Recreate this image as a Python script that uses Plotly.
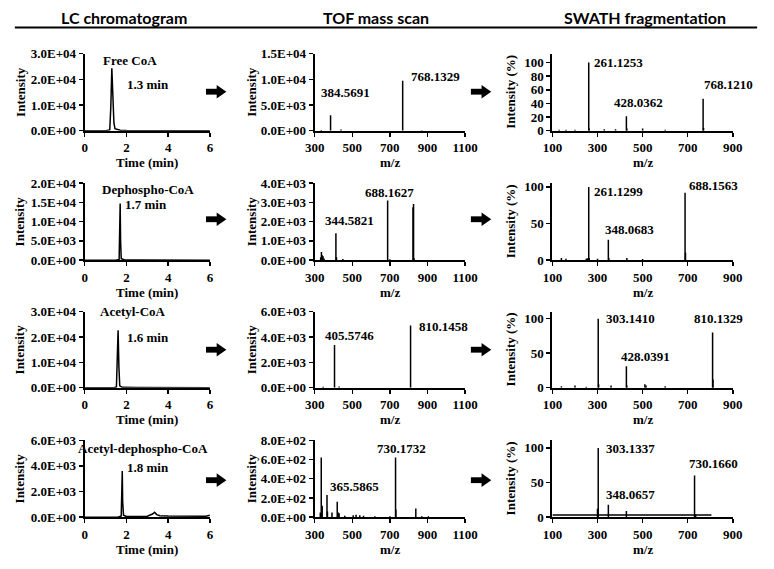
import plotly.graph_objects as go

W, H = 774, 569

# ---------------- data ----------------
HEADERS = ["LC chromatogram", "TOF mass scan", "SWATH fragmentation"]
COMPOUNDS = ["Free CoA", "Dephospho-CoA", "Acetyl-CoA", "Acetyl-dephospho-CoA"]
RET_TIMES = ["1.3 min", "1.7 min", "1.6 min", "1.8 min"]

# LC chromatograms (time in min, intensity)
LC1_TIME = [0, 1.0, 1.2, 1.25, 1.3, 1.35, 1.4, 1.45, 1.6, 1.7, 2.0, 3.0, 6.0]
LC1_INT = [0, 0, 300, 9000, 24300, 14000, 3000, 800, 400, 200, 50, 30, 0]
LC2_TIME = [0, 1.5, 1.65, 1.68, 1.7, 1.72, 1.75, 1.9, 2.4, 2.5, 6.0]
LC2_INT = [0, 0, 200, 6000, 14700, 5000, 400, 100, 200, 50, 0]
LC3_TIME = [0, 1.4, 1.52, 1.56, 1.6, 1.64, 1.68, 1.8, 2.4, 2.5, 6.0]
LC3_INT = [0, 0, 300, 9000, 22700, 8000, 700, 150, 250, 50, 0]
LC4_TIME = [0, 1.6, 1.75, 1.78, 1.8, 1.82, 1.86, 2.0, 3.0, 3.25, 3.35, 3.45, 3.6, 4.0, 5.0, 5.8, 6.0]
LC4_INT = [0, 0, 100, 1500, 3600, 1200, 150, 50, 80, 250, 380, 200, 120, 100, 60, 80, 150]

# TOF mass scans (m/z, intensity)
TOF1_MZ = [335, 384.5691, 440, 768.1329, 870]
TOF1_INT = [120, 3000, 200, 9750, 100]
TOF2_MZ = [332, 336, 340, 344.5821, 350, 413, 416, 450, 688.1627, 700, 823, 826, 829]
TOF2_INT = [150, 430, 250, 200, 80, 1400, 150, 60, 3100, 50, 2750, 2920, 100]
TOF3_MZ = [345, 405.5746, 430, 810.1458]
TOF3_INT = [80, 3380, 90, 4920]
TOF4_MZ = [330, 335, 340, 365.5865, 368, 392, 420, 425, 430, 460, 505, 520, 540, 560,
           620, 700, 730.1732, 732, 838, 870, 905]
TOF4_INT = [50, 620, 120, 230, 60, 50, 160, 50, 40, 15, 20, 25, 20, 15,
            10, 10, 620, 80, 90, 10, 10]

# SWATH fragmentation (m/z, relative intensity %)
SW1_MZ = [130, 160, 200, 261.1253, 263, 330, 380, 428.0362, 430, 500, 600, 768.1210, 770]
SW1_INT = [1.5, 1.5, 1.5, 100, 3, 2, 2, 21, 3, 3, 1.5, 47, 4]
SW2_MZ = [140, 160, 250, 255, 261.1299, 263, 300, 348.0683, 350, 430, 500, 688.1563, 690]
SW2_INT = [3, 2, 2, 2.5, 100, 3, 2, 28, 3, 3, 1.5, 92, 10]
SW3_MZ = [140, 200, 250, 303.1410, 305, 360, 428.0391, 430, 510, 515, 600, 810.1329, 812]
SW3_INT = [2, 3, 1.5, 100, 5, 3, 31, 3, 5, 3, 2, 80, 12]
SW4_MZ = [300, 303.1337, 348.0657, 428, 730.1660, 735]
SW4_INT = [12, 100, 18, 9, 60, 4]
SW4_BASE_MZ = [100, 805]
SW4_BASE_INT = [3, 3]

# peak labels
TOF_LABELS = [["384.5691", "768.1329"], ["344.5821", "688.1627"],
              ["405.5746", "810.1458"], ["365.5865", "730.1732"]]
SW_LABELS = [["261.1253", "428.0362", "768.1210"], ["261.1299", "348.0683", "688.1563"],
             ["303.1410", "428.0391", "810.1329"], ["303.1337", "348.0657", "730.1660"]]

# ticks
LC_XTICKS = [0, 2, 4, 6]
TOF_XTICKS = [300, 500, 700, 900, 1100]
SW_XTICKS = [100, 300, 500, 700, 900]
LC_YTICKS = [[0, 1e4, 2e4, 3e4], [0, 5e3, 1e4, 1.5e4, 2e4], [0, 1e4, 2e4, 3e4], [0, 2e3, 4e3, 6e3]]
LC_YTEXT = [["0.0E+00", "1.0E+04", "2.0E+04", "3.0E+04"],
            ["0.0E+00", "5.0E+03", "1.0E+04", "1.5E+04", "2.0E+04"],
            ["0.0E+00", "1.0E+04", "2.0E+04", "3.0E+04"],
            ["0.0E+00", "2.0E+03", "4.0E+03", "6.0E+03"]]
TOF_YTICKS = [[0, 5e3, 1e4, 1.5e4], [0, 1e3, 2e3, 3e3, 4e3], [0, 2e3, 4e3, 6e3], [0, 200, 400, 600, 800]]
TOF_YTEXT = [["0.0E+00", "5.0E+03", "1.0E+04", "1.5E+04"],
             ["0.0E+00", "1.0E+03", "2.0E+03", "3.0E+03", "4.0E+03"],
             ["0.0E+00", "2.0E+03", "4.0E+03", "6.0E+03"],
             ["0.0E+00", "2.0E+02", "4.0E+02", "6.0E+02", "8.0E+02"]]
SW_YTICKS = [[0, 20, 40, 60, 80, 100], [0, 50, 100], [0, 50, 100], [0, 50, 100]]

LC_YMAX = [3e4, 2e4, 3e4, 6e3]
TOF_YMAX = [1.5e4, 4e3, 6e3, 8e2]
SW_YMAX = [113, 105, 110, 111]

# ---------------- layout geometry (pixels) ----------------
COL_X = [(77, 206), (314, 469), (559, 745)]
ROW_Y = [(48, 127), (181, 260), (313, 391), (445, 524)]


def X(px):
    return px / W


def Y(py):
    return 1 - py / H


def sticks(mz, inten):
    xs, ys = [], []
    for m, v in zip(mz, inten):
        xs += [m, m, None]
        ys += [0, v, None]
    return xs, ys


fig = go.Figure()
LC_DATA = [(LC1_TIME, LC1_INT), (LC2_TIME, LC2_INT), (LC3_TIME, LC3_INT), (LC4_TIME, LC4_INT)]
TOF_DATA = [(TOF1_MZ, TOF1_INT), (TOF2_MZ, TOF2_INT), (TOF3_MZ, TOF3_INT), (TOF4_MZ, TOF4_INT)]
SW_DATA = [(SW1_MZ, SW1_INT), (SW2_MZ, SW2_INT), (SW3_MZ, SW3_INT), (SW4_MZ, SW4_INT)]

TICKFONT = dict(family="Liberation Serif", size=13, color="black", weight="bold")
LBLFONT = dict(family="Liberation Serif", size=13, color="black", weight="bold")

layout = {}
annotations = []
shapes = []

for r in range(4):
    for c in range(3):
        k = r * 3 + c + 1
        xa = "x" if k == 1 else f"x{k}"
        ya = "y" if k == 1 else f"y{k}"
        if c == 0:
            t, v = LC_DATA[r]
            fig.add_trace(go.Scatter(x=t, y=v, mode="lines", line=dict(color="black", width=1.5),
                                     xaxis=xa, yaxis=ya, showlegend=False, hoverinfo="skip"))
            xr, xt, yr = [0, 6], LC_XTICKS, [0, LC_YMAX[r]]
            yt, ytt = LC_YTICKS[r], LC_YTEXT[r]
        elif c == 1:
            xs, ys = sticks(*TOF_DATA[r])
            fig.add_trace(go.Scatter(x=xs, y=ys, mode="lines", line=dict(color="black", width=1.5),
                                     xaxis=xa, yaxis=ya, showlegend=False, hoverinfo="skip"))
            xr, xt, yr = [300, 1100], TOF_XTICKS, [0, TOF_YMAX[r]]
            yt, ytt = TOF_YTICKS[r], TOF_YTEXT[r]
        else:
            if r == 3:
                fig.add_trace(go.Scatter(x=SW4_BASE_MZ, y=SW4_BASE_INT, mode="lines",
                                         line=dict(color="black", width=1.5),
                                         xaxis=xa, yaxis=ya, showlegend=False, hoverinfo="skip"))
            xs, ys = sticks(*SW_DATA[r])
            fig.add_trace(go.Scatter(x=xs, y=ys, mode="lines", line=dict(color="black", width=1.5),
                                     xaxis=xa, yaxis=ya, showlegend=False, hoverinfo="skip"))
            xr, xt, yr = [100, 900], SW_XTICKS, [0, SW_YMAX[r]]
            yt, ytt = SW_YTICKS[r], [str(v) for v in SW_YTICKS[r]]
        x0, x1 = COL_X[c]
        y0, y1 = ROW_Y[r]
        common = dict(showline=True, linecolor="black", linewidth=2, ticks="outside", ticklen=4,
                      tickwidth=1.5, tickcolor="black", showgrid=False, zeroline=False,
                      tickfont=TICKFONT, fixedrange=True)
        layout["xaxis" if k == 1 else f"xaxis{k}"] = dict(
            domain=[X(x0), X(x1)], range=xr, tickmode="array", tickvals=xt,
            ticktext=[str(v) for v in xt], anchor=ya, **common)
        layout["yaxis" if k == 1 else f"yaxis{k}"] = dict(
            domain=[Y(y1), Y(y0)], range=yr, tickmode="array", tickvals=yt,
            ticktext=ytt, anchor=xa, **common)

        # axis titles
        xt_title = "Time (min)" if c == 0 else "m/z"
        annotations.append(dict(x=X((x0 + x1) / 2), y=Y(y1 + 33), xref="paper", yref="paper",
                                text=xt_title, showarrow=False, font=LBLFONT,
                                xanchor="center", yanchor="middle"))
        yt_title = "Intensity (%)" if c == 2 else "Intensity"
        ytx = [10, 249, 516][c]
        annotations.append(dict(x=X(ytx), y=Y((y0 + y1) / 2), xref="paper", yref="paper",
                                text=yt_title, showarrow=False, font=LBLFONT, textangle=-90,
                                xanchor="center", yanchor="middle"))

# headers
for txt, cx in zip(HEADERS, [117, 377, 654]):
    annotations.append(dict(x=X(cx), y=Y(11), xref="paper", yref="paper", text=txt,
                            showarrow=False, xanchor="center", yanchor="middle",
                            font=dict(family="Lato", size=16, color="black", weight="bold")))
shapes.append(dict(type="line", xref="paper", yref="paper", x0=X(5), x1=X(770), y0=Y(21), y1=Y(21),
                   line=dict(color="black", width=2)))

# compound / retention time labels
NAME_POS = [(124, 55), (142, 187), (127, 313), (137, 453)]
RT_POS = [(142, 80), (140, 203), (142, 339), (142, 473)]
for r in range(4):
    for txt, (px, py) in [(COMPOUNDS[r], NAME_POS[r]), (RET_TIMES[r], RT_POS[r])]:
        annotations.append(dict(x=X(px), y=Y(py), xref="paper", yref="paper", text=txt,
                                showarrow=False, font=LBLFONT, xanchor="center", yanchor="middle"))

TOF_POS = [[(346, 88), (439, 71)], [(350, 219), (391, 191)], [(350, 337), (447, 328)], [(355, 492), (403, 453)]]
SW_POS = [[(627, 57), (648, 98), (740, 80)], [(627, 189), (638, 229), (725, 183)],
          [(640, 320), (655, 359), (730, 320)], [(640, 453), (640, 501), (725, 469)]]
for r in range(4):
    for txt, (px, py) in list(zip(TOF_LABELS[r], TOF_POS[r])) + list(zip(SW_LABELS[r], SW_POS[r])):
        annotations.append(dict(x=X(px), y=Y(py), xref="paper", yref="paper", text=txt,
                                showarrow=False, font=LBLFONT, xanchor="center", yanchor="middle"))

# block arrows
ARROW_Y = [87, 218, 352, 486]
ARROW_X = [202, 475]
for ay in ARROW_Y:
    for axp in ARROW_X:
        shapes.append(dict(type="rect", xref="paper", yref="paper", x0=X(axp), x1=X(axp + 12),
                           y0=Y(ay + 3), y1=Y(ay - 3), fillcolor="black", line=dict(width=0)))
        path = (f"M {X(axp + 11)},{Y(ay - 7)} L {X(axp + 21)},{Y(ay)} "
                f"L {X(axp + 11)},{Y(ay + 7)} Z")
        shapes.append(dict(type="path", xref="paper", yref="paper", path=path,
                           fillcolor="black", line=dict(width=0)))

fig.update_layout(width=W, height=H, margin=dict(l=0, r=0, t=0, b=0),
                  paper_bgcolor="white", plot_bgcolor="white",
                  annotations=annotations, shapes=shapes, showlegend=False, **layout)

fig.write_html("out.html", config={"displayModeBar": False, "staticPlot": True},
               post_script="document.body.style.margin='0px';")
